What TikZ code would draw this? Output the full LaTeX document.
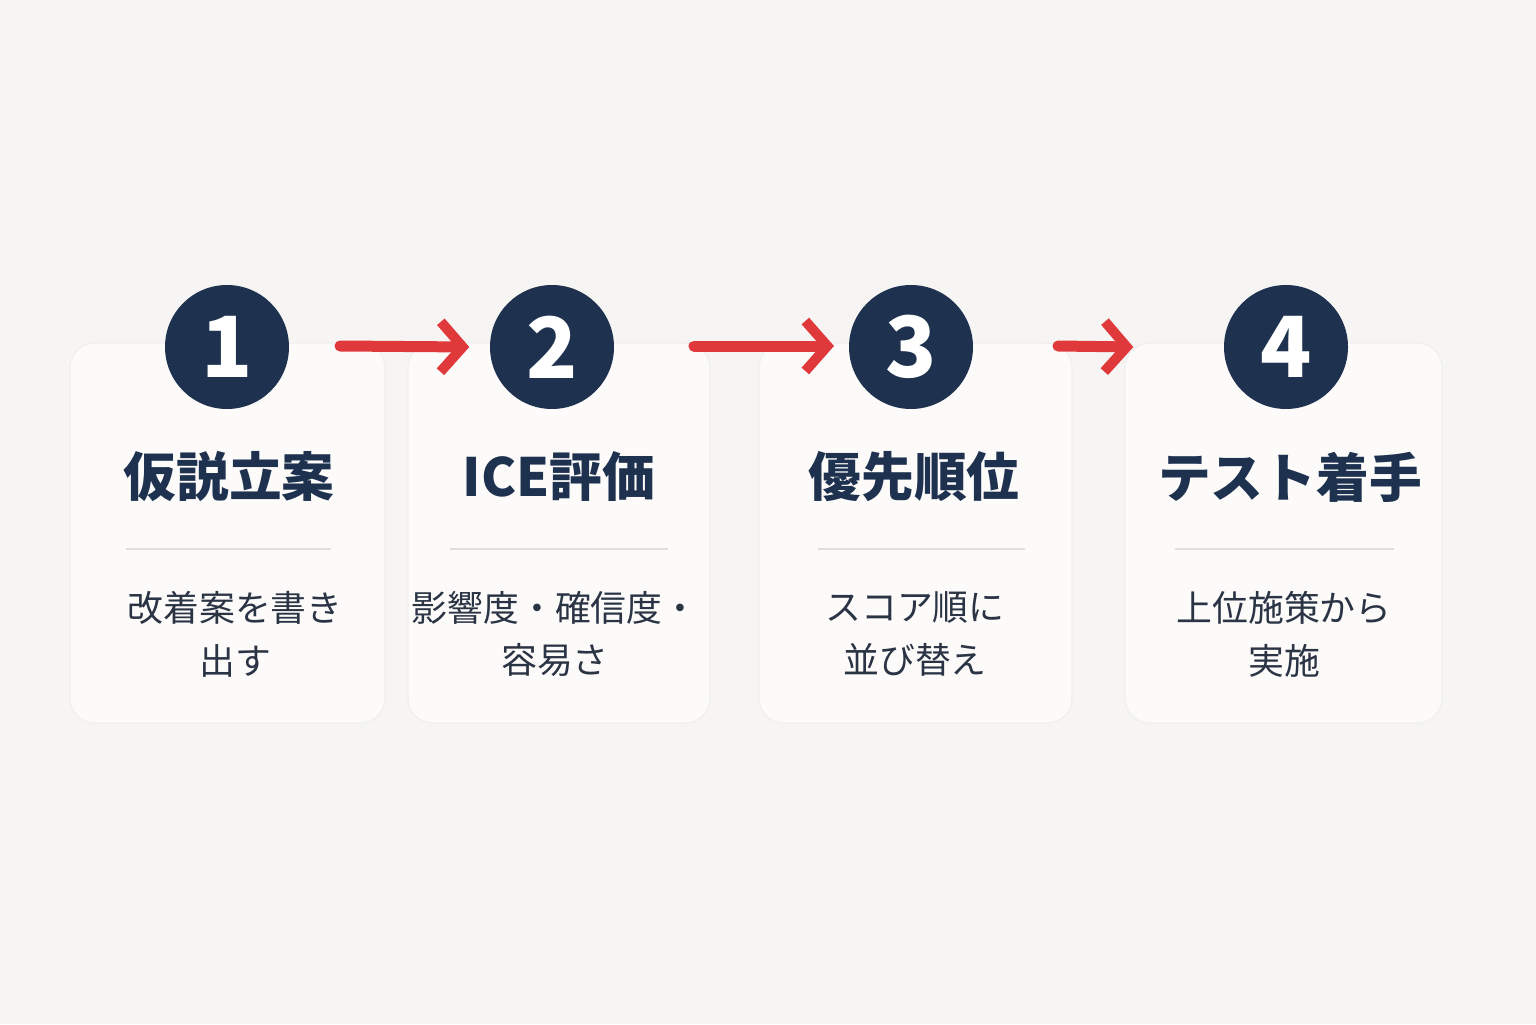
\documentclass[tikz,border=0pt]{standalone}
\usepackage{fontspec}
\setmainfont{Noto Sans CJK JP}
\usetikzlibrary{arrows.meta, positioning}
\definecolor{navy}{HTML}{1E3250}
\definecolor{bgc}{HTML}{F6F5F3}
\definecolor{cardc}{HTML}{FCFBFA}
\definecolor{arrc}{HTML}{E0393B}
\definecolor{rulec}{HTML}{E0DEDB}
\definecolor{txtc}{HTML}{2B3444}

\begin{document}
\begin{tikzpicture}
\tikzset{card/.style = {fill=cardc, rounded corners=7pt, draw=black!6},
         num/.style = {circle, fill=navy, minimum size=1.24cm, inner sep=0pt, text=white, font=\fontsize{24}{24}\selectfont\bfseries},
         title/.style = {text=navy, font=\fontsize{15}{15}\selectfont\bfseries},
         body/.style = {text=txtc, align=center, font=\fontsize{10.2}{15}\selectfont},
         flow/.style = {-{Straight Barb[length=2.2mm, width=5mm, line width=1mm]}, arrc, line width=1.1mm, line cap=round}}
            % background
	\fill[bgc] (0,0) rectangle (15.36,10.24);
            % cards
	\draw[card] (0.70,3.01) rectangle (3.85,6.81);
	\draw[card] (4.08,3.01) rectangle (7.10,6.81);
	\draw[card] (7.59,3.01) rectangle (10.72,6.81);
	\draw[card] (11.25,3.01) rectangle (14.42,6.81);
            % numbers
	\node[num] (n1) at (2.27,6.77) {1};
	\node[num] (n2) at (5.52,6.77) {2};
	\node[num] (n3) at (9.11,6.77) {3};
	\node[num] (n4) at (12.86,6.77) {4};
            % titles
	\node[title] (t1) at (2.29,5.47) {仮説立案};
	\node[title] (t2) at (5.59,5.47) {ICE評価};
	\node[title] (t3) at (9.14,5.47) {優先順位};
	\node[title] (t4) at (12.90,5.47) {テスト着手};
            % rules
	\draw[rulec, line width=0.6pt] (1.26,4.75) -- (3.31,4.75);
	\draw[rulec, line width=0.6pt] (4.50,4.75) -- (6.68,4.75);
	\draw[rulec, line width=0.6pt] (8.18,4.75) -- (10.25,4.75);
	\draw[rulec, line width=0.6pt] (11.75,4.75) -- (13.94,4.75);
            % texts
	\node[body] (b1) at (2.35,3.90) {改着案を書き\\出す};
	\node[body] (b2) at (5.55,3.90) {影響度・確信度・\\容易さ};
	\node[body] (b3) at (9.15,3.90) {スコア順に\\並び替え};
	\node[body] (b4) at (12.84,3.90) {上位施策から\\実施};
            % arrows
	\coordinate (a1) at (3.40,6.78);
	\coordinate (a2) at (6.94,6.78);
	\coordinate (a3) at (10.58,6.78);
	\draw[flow] (a1) -- ([xshift=-0.2cm]n2.west);
	\draw[flow] (a2) -- ([xshift=1.4cm]a2 -| a2);
	\draw[flow] (a3) -- ([xshift=-0.9cm]n4.west);
\end{tikzpicture}
\end{document}
